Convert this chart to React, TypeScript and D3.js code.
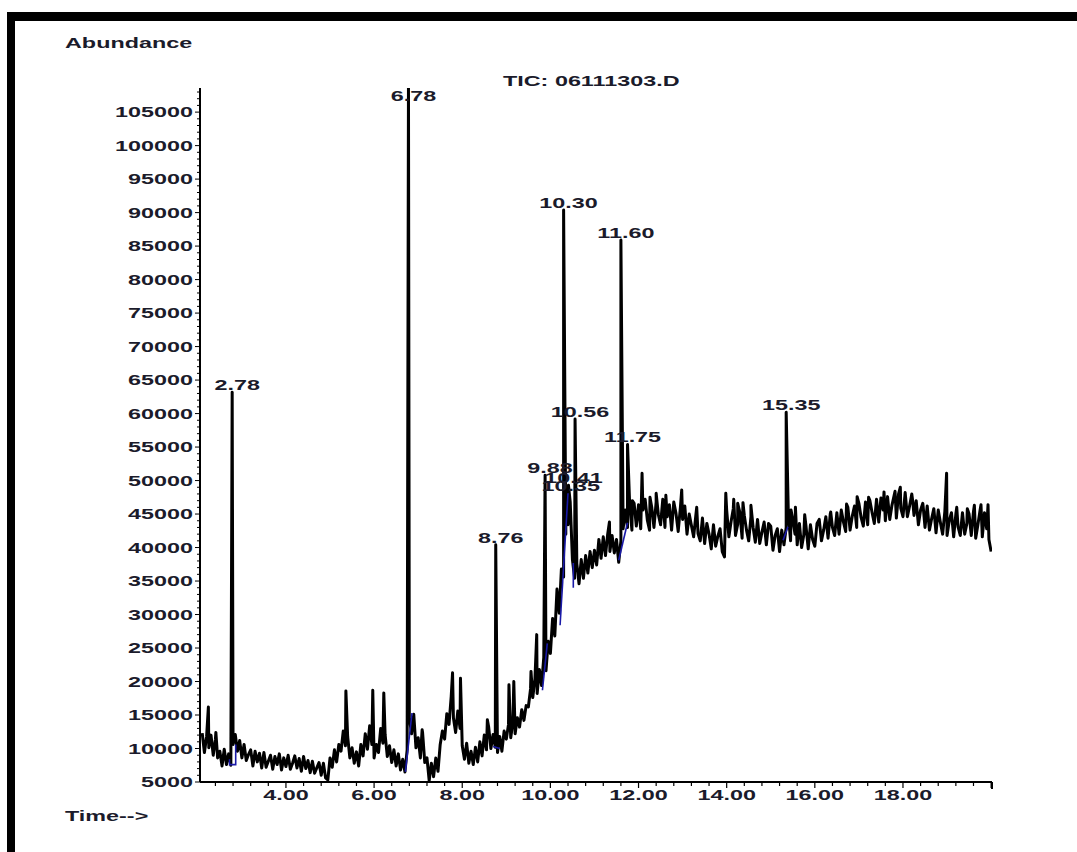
import React from "react";
import * as d3 from "d3";

// ---- data (abundance values) ----
const yTickValues = [5000, 10000, 15000, 20000, 25000, 30000, 35000, 40000, 45000, 50000, 55000, 60000, 65000, 70000, 75000, 80000, 85000, 90000, 95000, 100000, 105000];
const xTickLabels = [4, 6, 8, 10, 12, 14, 16, 18];

// baseline trace, rows of [start time (min), abundance in thousands sampled every 0.05 min]
const baselineRows: [number, number[]][] = [
  [2.10, [12.3, 9.4, 11.8, 10.1, 12.0, 9.0, 11.4, 8.6]],
  [2.50, [9.6, 7.4, 9.9, 7.6, 9.2, 7.5, 10.6, 12.1, 9.6, 11.2]],
  [3.00, [8.6, 10.6, 8.2, 9.1, 9.8, 7.4, 9.6, 8.0, 9.3, 7.1]],
  [3.50, [9.4, 7.2, 8.1, 9.0, 6.9, 8.8, 7.6, 9.2, 6.8, 8.6]],
  [4.00, [7.3, 9.0, 6.9, 7.8, 8.9, 7.1, 8.5, 6.6, 8.8, 7.0]],
  [4.50, [8.2, 6.4, 8.1, 6.3, 7.1, 7.9, 6.0, 7.8, 5.6, 5.3]],
  [5.00, [8.6, 7.2, 9.8, 8.0, 10.6, 9.6, 12.6, 10.4, 11.8, 8.6]],
  [5.50, [10.1, 7.8, 9.5, 7.4, 10.6, 8.9, 12.2, 9.9, 13.4, 10.6]],
  [6.00, [8.6, 10.6, 9.4, 13.0, 10.8, 12.1, 8.8, 10.4, 7.9, 9.8]],
  [6.50, [7.4, 9.2, 6.8, 8.4, 6.5, 9.8, 14.6, 12.2, 15.1, 10.1]],
  [7.00, [11.6, 8.6, 12.4, 7.9, 8.6, 5.2, 7.8, 5.8, 8.6, 6.6]],
  [7.50, [10.6, 12.6, 11.4, 15.2, 13.6, 17.8, 14.6, 12.4, 15.6, 13.0]],
  [8.00, [10.4, 8.4, 10.8, 7.8, 9.6, 7.6, 10.2, 8.0, 11.0, 8.9]],
  [8.50, [12.0, 9.8, 13.2, 10.0, 12.1, 10.2, 9.4, 11.8, 9.6, 12.6]],
  [9.00, [11.4, 13.6, 11.6, 14.0, 12.2, 14.6, 13.2, 15.8, 14.2, 16.4]],
  [9.50, [16.2, 18.9, 17.6, 20.4, 18.2, 21.8, 19.4, 23.6, 21.6, 26.0]],
  [10.00, [24.2, 29.4, 26.8, 33.8, 30.2, 36.8, 35.6, 42.0, 43.4, 46.8]],
  [10.50, [38.2, 35.4, 37.6, 34.6, 38.2, 35.4, 38.8, 36.2, 39.4, 37.0]],
  [11.00, [39.6, 37.4, 41.2, 38.4, 41.6, 38.8, 42.0, 39.4, 41.8, 39.2]],
  [11.50, [41.2, 37.8, 41.0, 42.8, 45.6, 43.0, 46.2, 42.6, 46.6, 43.2]],
  [12.00, [46.4, 42.8, 45.6, 47.2, 44.1, 42.6, 46.0, 43.0, 46.8, 44.9]],
  [12.50, [43.4, 47.2, 43.0, 44.6, 46.4, 42.6, 46.8, 45.1, 42.4, 46.0]],
  [13.00, [44.2, 46.2, 42.0, 45.0, 43.3, 41.6, 44.8, 42.1, 41.0, 44.4]],
  [13.50, [40.6, 43.6, 42.0, 39.8, 43.4, 40.2, 41.7, 42.8, 39.4, 38.6]],
  [14.00, [45.6, 41.6, 43.9, 45.8, 41.8, 43.5, 45.2, 41.4, 44.8, 42.6]],
  [14.50, [41.0, 44.6, 43.0, 40.8, 44.2, 40.6, 42.3, 43.8, 40.4, 43.6]],
  [15.00, [43.2, 39.6, 41.8, 42.8, 39.4, 42.6, 40.4, 43.0, 44.8, 41.0]],
  [15.50, [44.2, 42.0, 40.4, 43.6, 40.0, 41.9, 43.2, 39.8, 43.4, 41.2]],
  [16.00, [40.2, 43.6, 44.2, 41.0, 42.6, 44.6, 41.4, 45.0, 43.0, 41.8]],
  [16.50, [45.2, 42.0, 45.6, 43.8, 42.4, 46.0, 42.6, 44.7, 46.2, 43.0]],
  [17.00, [46.6, 44.5, 43.2, 46.8, 43.4, 47.0, 45.2, 43.6, 47.2, 43.8]],
  [17.50, [47.4, 45.6, 44.0, 47.6, 44.2, 46.3, 47.8, 44.4, 48.0, 45.9]],
  [18.00, [44.6, 48.2, 44.6, 46.2, 48.0, 44.8, 47.0, 43.4, 45.6, 46.6]],
  [18.50, [43.0, 46.2, 42.6, 44.3, 45.8, 42.2, 45.6, 43.7, 42.0, 45.4]],
  [19.00, [41.8, 44.0, 45.2, 41.6, 45.0, 43.1, 41.8, 45.2, 42.0, 43.6]],
  [19.50, [45.0, 41.8, 45.4, 41.4, 43.4, 45.6, 41.6, 45.2, 42.8, 41.2]],
  [20.00, [39.4]],
];
const SAMPLE_STEP = 0.05;

// unlabeled spikes: [time, abundance]
const minorSpikes: [number, number][] = [
  [2.24, 16200], [2.41, 12400], [5.36, 18600], [5.97, 18700], [6.22, 18300],
  [7.09, 12800], [7.78, 21300], [7.96, 20500], [8.57, 14300], [9.06, 19500],
  [9.17, 20000], [9.56, 21500], [9.69, 27000], [11.34, 43800], [11.86, 47000],
  [12.08, 51100], [12.26, 47500], [12.40, 48100], [12.62, 47800], [12.98, 48600],
  [13.32, 46000], [13.98, 48100], [14.16, 47200], [14.25, 46600], [14.37, 46700],
  [14.55, 46300], [15.46, 45600], [15.56, 46000], [15.77, 44900], [16.36, 45300],
  [16.72, 46500], [16.96, 47600], [17.22, 47500], [17.57, 48300], [17.82, 48400],
  [17.94, 49000], [18.22, 47000], [18.46, 46000], [18.99, 51100], [19.22, 46000],
  [19.46, 45800], [19.62, 46300], [19.77, 46400], [19.93, 46400],
];

// labeled peaks
const peakTimes = [2.78, 6.78, 8.76, 9.88, 10.30, 10.35, 10.41, 10.56, 11.60, 11.75, 15.35];
const peakHeights = [63200, 109000, 40400, 50800, 90400, 48100, 49300, 59200, 85900, 55400, 60200];
const peakLabels = ["2.78", "6.78", "8.76", "9.88", "10.30", "10.35", "10.41", "10.56", "11.60", "11.75", "15.35"];

// blue integration baselines: polylines of [time, abundance]
const integrationLines: [number, number][][] = [
  [[2.72, 8400], [2.72, 7600], [2.86, 7600], [2.86, 10600]],
  [[6.71, 6500], [6.86, 15300]],
  [[8.70, 10300], [8.85, 10000]],
  [[9.82, 18700], [9.93, 25700]],
  [[10.22, 28400], [10.40, 48100]],
  [[10.52, 37700], [10.52, 34000]],
  [[11.55, 38100], [11.75, 43700]],
  [[15.28, 41100], [15.39, 43100]],
];

const FONT = "'Liberation Sans', Arial, sans-serif";
const TEXT_COLOR = "#1b1b2b";
const SX = 1.67;

function Txt({ x, y, anchor = "start", children }: { x: number; y: number; anchor?: string; children: React.ReactNode }) {
  return (
    <text
      transform={`translate(${x},${y}) scale(${SX},1)`}
      textAnchor={anchor}
      fontFamily={FONT}
      fontSize={14}
      fontWeight="bold"
      fill={TEXT_COLOR}
    >
      {children}
    </text>
  );
}

export default function App() {
  const W = 1077, H = 852;
  const left = 200, right = 992, top = 88, bottom = 782;
  const x = d3.scaleLinear().domain([2.05, 20.02]).range([left, right]);
  const y = d3.scaleLinear().domain([5000, 108600]).range([bottom, top]);

  const pts: [number, number][] = [];
  baselineRows.forEach(([t0, vals]) => {
    vals.forEach((v, i) => pts.push([+(t0 + i * SAMPLE_STEP).toFixed(2), v * 1000]));
  });
  minorSpikes.forEach((p) => pts.push(p));
  peakTimes.forEach((t, i) => pts.push([t, peakHeights[i]]));
  const sorted = pts.map((p, i) => ({ p, i })).sort((a, b) => a.p[0] - b.p[0] || a.i - b.i).map((d) => d.p);

  const line = d3.line<[number, number]>().x((d) => x(d[0])).y((d) => y(d[1]));

  const yMinor = d3.range(5000, 108001, 1000);
  const xMinor = d3.range(0, 45).map((i) => +(2.4 + i * 0.4).toFixed(2)).filter((t) => t <= 20.0001);

  return (
    <svg width={W} height={H} style={{ position: "absolute", left: 0, top: 0, background: "#fff" }}>
      <defs>
        <clipPath id="plot">
          <rect x={left} y={top} width={right - left} height={bottom - top} />
        </clipPath>
      </defs>
      <rect x={0} y={0} width={W} height={H} fill="#fff" />
      {/* frame */}
      <rect x={7} y={12} width={W - 7} height={9} fill="#000" />
      <rect x={7} y={12} width={8} height={H - 12} fill="#000" />

      <Txt x={65} y={48}>Abundance</Txt>
      <Txt x={503} y={86}>TIC: 06111303.D</Txt>
      <Txt x={65} y={821}>Time--&gt;</Txt>

      {/* y axis */}
      <line x1={left} x2={left} y1={top} y2={bottom} stroke="#000" strokeWidth={2} />
      {yMinor.map((v) => (
        <line key={"ym" + v} x1={left - (v % 5000 === 0 ? 5 : 3)} x2={left} y1={y(v)} y2={y(v)} stroke="#000" strokeWidth={1} />
      ))}
      {yTickValues.map((v) => (
        <Txt key={"yl" + v} x={left - 7} y={y(v) + 5} anchor="end">{String(v)}</Txt>
      ))}

      {/* x axis */}
      <line x1={left} x2={right} y1={bottom} y2={bottom} stroke="#000" strokeWidth={2} />
      {xMinor.map((t) => (
        <line key={"xm" + t} x1={x(t)} x2={x(t)} y1={bottom} y2={bottom + (Math.abs(t % 2) < 0.001 ? 6 : 4)} stroke="#000" strokeWidth={1.2} />
      ))}
      <line x1={right} x2={right} y1={bottom} y2={bottom + 7} stroke="#000" strokeWidth={2} />
      {xTickLabels.map((t) => (
        <Txt key={"xl" + t} x={x(t)} y={800} anchor="middle">{t.toFixed(2)}</Txt>
      ))}

      {/* trace */}
      <g clipPath="url(#plot)">
        <path d={line(sorted) || ""} fill="none" stroke="#000" strokeWidth={3} strokeLinejoin="round" />
        {integrationLines.map((pl, i) => (
          <path key={"b" + i} d={line(pl) || ""} fill="none" stroke="#1a1aa8" strokeWidth={1.6} />
        ))}
      </g>

      {/* peak labels */}
      {peakTimes.map((t, i) => (
        <Txt key={"pl" + i} x={x(t) + 5} y={Math.max(y(peakHeights[i]), top + 15) - 2} anchor="middle">
          {peakLabels[i]}
        </Txt>
      ))}
    </svg>
  );
}
